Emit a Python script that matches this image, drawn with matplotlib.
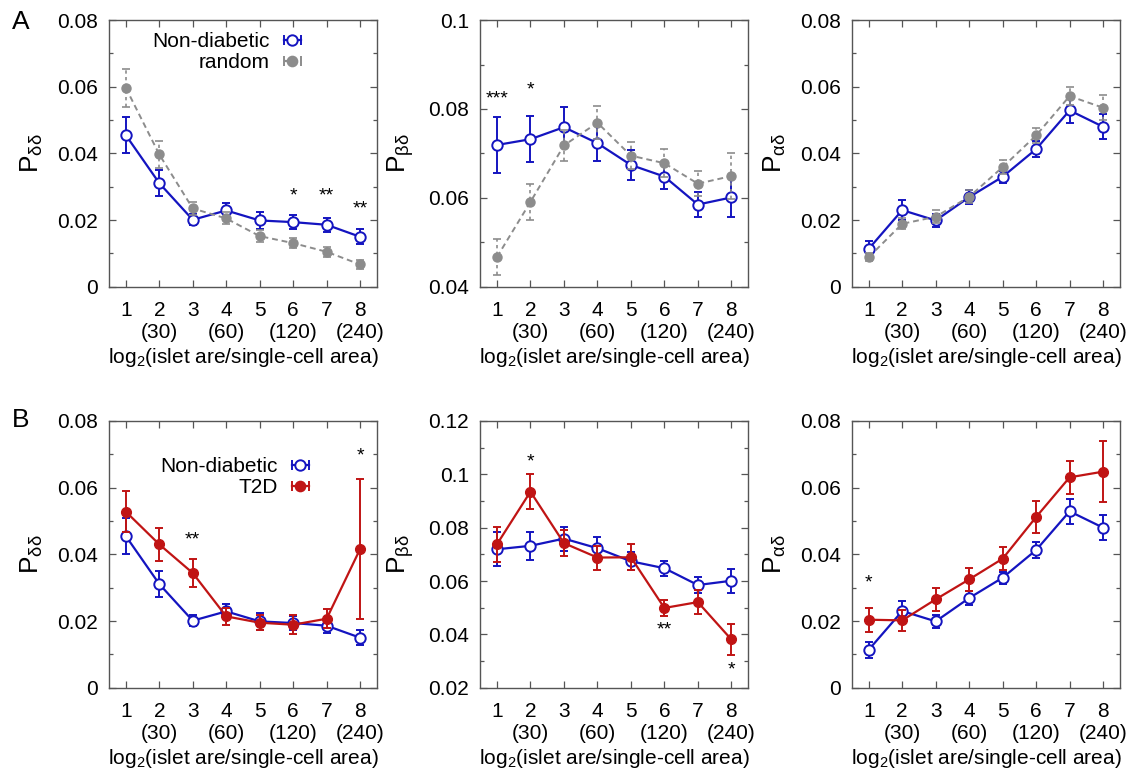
import numpy as np
import matplotlib
matplotlib.use('Agg')
import matplotlib.pyplot as plt
from matplotlib.lines import Line2D
from matplotlib.legend_handler import HandlerLine2D
from matplotlib.ticker import MultipleLocator, FuncFormatter

plt.rcParams['font.family'] = ['Liberation Sans', 'DejaVu Sans']
plt.rcParams['font.size'] = 15

# x axis: log2 of islet area / single-cell area
x = np.arange(1, 9)
xtick_labels = ['1', '2\n(30)', '3', '4\n(60)', '5', '6\n(120)', '7', '8\n(240)']

# non-diabetic
nd_dd = [0.0455, 0.0311, 0.0201, 0.0229, 0.0199, 0.0194, 0.0186, 0.0150]
nd_dd_err = [0.0055, 0.0040, 0.0016, 0.0021, 0.0025, 0.0021, 0.0021, 0.0022]
nd_bd = [0.0719, 0.0732, 0.0759, 0.0723, 0.0674, 0.0648, 0.0585, 0.0601]
nd_bd_err = [0.0064, 0.0052, 0.0045, 0.0041, 0.0033, 0.0028, 0.0029, 0.0045]
nd_ad = [0.0114, 0.0230, 0.0199, 0.0269, 0.0330, 0.0413, 0.0529, 0.0480]
nd_ad_err = [0.0024, 0.0030, 0.0020, 0.0022, 0.0018, 0.0023, 0.0037, 0.0037]

# random
rnd_dd = [0.0597, 0.0397, 0.0235, 0.0205, 0.0152, 0.0131, 0.0105, 0.0067]
rnd_dd_err = [0.0057, 0.0040, 0.0020, 0.0018, 0.0017, 0.0015, 0.0015, 0.0013]
rnd_bd = [0.0467, 0.0591, 0.0718, 0.0769, 0.0695, 0.0678, 0.0632, 0.0649]
rnd_bd_err = [0.0040, 0.0040, 0.0035, 0.0037, 0.0031, 0.0032, 0.0028, 0.0052]
rnd_ad = [0.0089, 0.0189, 0.0210, 0.0270, 0.0359, 0.0454, 0.0572, 0.0537]
rnd_ad_err = [0.0013, 0.0017, 0.0019, 0.0020, 0.0020, 0.0022, 0.0028, 0.0037]

# T2D
t2d_dd = [0.0528, 0.0430, 0.0344, 0.0214, 0.0195, 0.0189, 0.0207, 0.0416]
t2d_dd_err = [0.0062, 0.0050, 0.0042, 0.0026, 0.0022, 0.0028, 0.0029, 0.0210]
t2d_bd = [0.0738, 0.0935, 0.0742, 0.0688, 0.0689, 0.0499, 0.0521, 0.0381]
t2d_bd_err = [0.0066, 0.0065, 0.0049, 0.0045, 0.0048, 0.0030, 0.0045, 0.0057]
t2d_ad = [0.0204, 0.0202, 0.0265, 0.0325, 0.0387, 0.0512, 0.0631, 0.0648]
t2d_ad_err = [0.0036, 0.0032, 0.0034, 0.0035, 0.0035, 0.0049, 0.0050, 0.0091]

# significance marks (x, y, text)
stars_A1 = [(6, 0.0272, '*'), (7, 0.0272, '**'), (8, 0.0234, '**')]
stars_A2 = [(1, 0.0822, '***'), (2, 0.0843, '*')]
stars_B1 = [(3, 0.0444, '**'), (8, 0.0695, '*')]
stars_B2 = [(2, 0.1047, '*'), (6, 0.0418, '**'), (8, 0.0266, '*')]
stars_B3 = [(1, 0.0315, '*')]

BLUE = '#1414c0'
RED = '#c01414'
GRAY = '#8c8c8c'
DASH = (0, (3, 2))

ylab_dd = r'P$_{\mathregular{δδ}}$'
ylab_bd = r'P$_{\mathregular{βδ}}$'
ylab_ad = r'P$_{\mathregular{αδ}}$'
xlab = r'log$_{\mathregular{2}}$(islet are/single-cell area)'


def draw(ax, y, err, kind):
    """ Малює одну серію з похибками"""
    if kind == 'nd':
        ax.errorbar(x, y, yerr=err, color=BLUE, lw=1.6, marker='o', ms=7.5,
                    mfc='white', mec=BLUE, mew=1.4, capsize=3, elinewidth=1.4,
                    capthick=1.4, zorder=3)
    elif kind == 'rnd':
        eb = ax.errorbar(x, y, yerr=err, color=GRAY, lw=1.4, ls=DASH,
                         marker='o', ms=6.5, capsize=3, elinewidth=1.2,
                         capthick=1.2, zorder=4)
        eb[2][0].set_linestyle((0, (2, 2)))
    else:
        ax.errorbar(x, y, yerr=err, color=RED, lw=1.6, marker='o', ms=7,
                    capsize=3, elinewidth=1.4, capthick=1.4, zorder=4)


def make_handle(color, ls, filled):
    caps = Line2D([], [], color=color, lw=1.6, ls=ls, marker='|', ms=7,
                  mew=1.4)
    dot = Line2D([], [], ls='none', marker='o', ms=7 if filled else 7.5,
                 mfc=color if filled else 'white', mec=color, mew=1.4)
    return caps, dot


def add_legend(ax, entries, anchor):
    handles, labels, hmap = [], [], {}
    for label, color, ls, filled in entries:
        caps, dot = make_handle(color, ls, filled)
        hmap[caps] = HandlerLine2D(numpoints=2)
        handles.append((caps, dot))
        labels.append(label)
    leg = ax.legend(handles, labels, handler_map=hmap, loc='upper right',
                    bbox_to_anchor=anchor, frameon=False, markerfirst=False,
                    handlelength=1.4, handletextpad=0.4, labelspacing=0.1,
                    borderaxespad=0, fontsize=15)
    # текст вирівнюємо праворуч, як у gnuplot
    for col in leg._legend_handle_box.get_children():
        col.align = 'right'


def style(ax, ylim, ystep, ylabel):
    ax.set_xlim(0.5, 8.5)
    ax.set_ylim(*ylim)
    ax.set_xticks(x)
    ax.set_xticklabels(xtick_labels, linespacing=1.2)
    ax.yaxis.set_major_locator(MultipleLocator(ystep))
    ax.yaxis.set_minor_locator(MultipleLocator(ystep / 2))
    ax.yaxis.set_major_formatter(FuncFormatter(lambda v, p: '%g' % round(v, 6)))
    ax.tick_params(which='both', direction='in', top=True, right=True,
                   color='#555555', width=0.9)
    ax.tick_params(which='major', length=5)
    ax.tick_params(which='minor', length=3)
    ax.tick_params(axis='y', pad=8)
    ax.tick_params(axis='x', pad=10)
    for s in ax.spines.values():
        s.set_color('#555555')
        s.set_linewidth(1.0)
    ax.set_ylabel(ylabel, fontsize=19, labelpad=9)
    ax.set_xlabel(xlab, labelpad=3)


def stars(ax, marks):
    for sx, sy, txt in marks:
        ax.text(sx, sy, txt, ha='center', va='center', fontsize=14)


fig = plt.figure(figsize=(11.3, 7.71), dpi=100)

colx = [0.0965, 0.425, 0.754]
w = 0.237
rowA, rowB, h = 0.628, 0.108, 0.346

# ряд A
ax = fig.add_axes([colx[0], rowA, w, h])
draw(ax, nd_dd, nd_dd_err, 'nd')
draw(ax, rnd_dd, rnd_dd_err, 'rnd')
style(ax, (0, 0.08), 0.02, ylab_dd)
stars(ax, stars_A1)
add_legend(ax, [('Non-diabetic', BLUE, '-', False),
                ('random', GRAY, (0, (2, 2)), True)], (0.77, 0.985))

ax = fig.add_axes([colx[1], rowA, w, h])
draw(ax, nd_bd, nd_bd_err, 'nd')
draw(ax, rnd_bd, rnd_bd_err, 'rnd')
style(ax, (0.04, 0.1), 0.02, ylab_bd)
stars(ax, stars_A2)

ax = fig.add_axes([colx[2], rowA, w, h])
draw(ax, nd_ad, nd_ad_err, 'nd')
draw(ax, rnd_ad, rnd_ad_err, 'rnd')
style(ax, (0, 0.08), 0.02, ylab_ad)

# ряд B
ax = fig.add_axes([colx[0], rowB, w, h])
draw(ax, nd_dd, nd_dd_err, 'nd')
draw(ax, t2d_dd, t2d_dd_err, 't2d')
style(ax, (0, 0.08), 0.02, ylab_dd)
stars(ax, stars_B1)
add_legend(ax, [('Non-diabetic', BLUE, '-', False),
                ('T2D', RED, '-', True)], (0.80, 0.895))

ax = fig.add_axes([colx[1], rowB, w, h])
draw(ax, nd_bd, nd_bd_err, 'nd')
draw(ax, t2d_bd, t2d_bd_err, 't2d')
style(ax, (0.02, 0.12), 0.02, ylab_bd)
stars(ax, stars_B2)

ax = fig.add_axes([colx[2], rowB, w, h])
draw(ax, nd_ad, nd_ad_err, 'nd')
draw(ax, t2d_ad, t2d_ad_err, 't2d')
style(ax, (0, 0.08), 0.02, ylab_ad)
stars(ax, stars_B3)

fig.text(0.018, 0.972, 'A', fontsize=19, va='center', ha='center')
fig.text(0.018, 0.455, 'B', fontsize=19, va='center', ha='center')

fig.savefig('out.png', dpi=100)
